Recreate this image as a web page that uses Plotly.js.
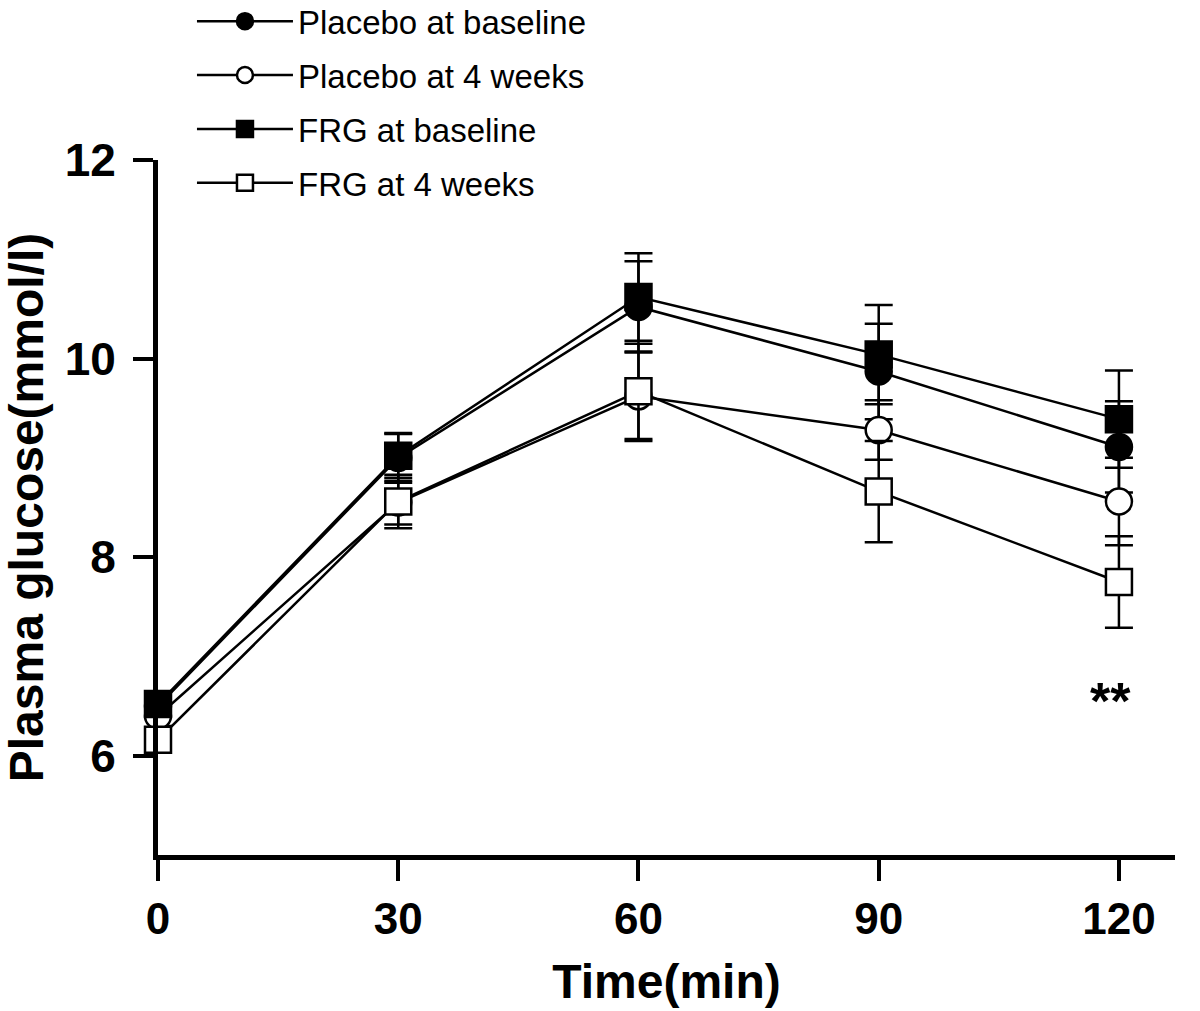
<!DOCTYPE html>
<html>
<head>
<meta charset="utf-8">
<script src="https://cdn.plot.ly/plotly-3.0.1.min.js"></script>
<style>
  html, body { margin: 0; padding: 0; background: #fff; }
  #plot { width: 1200px; height: 1011px; }
</style>
</head>
<body>
<div id="plot"></div>
<script>
// OGTT plasma glucose, mean with error bars
var time = [0, 30, 60, 90, 120];

var seriesNames = ['Placebo at baseline', 'Placebo at 4 weeks', 'FRG at baseline', 'FRG at 4 weeks'];

var placeboBase = [6.50, 9.00, 10.52, 9.87, 9.11];
var placeboBaseErr = [0.10, 0.25, 0.46, 0.48, 0.46];

var placebo4w = [6.40, 8.55, 9.62, 9.28, 8.56];
var placebo4wErr = [0.10, 0.22, 0.45, 0.30, 0.44];

var frgBase = [6.52, 9.02, 10.62, 10.04, 9.39];
var frgBaseErr = [0.10, 0.22, 0.44, 0.50, 0.49];

var frg4w = [6.16, 8.56, 9.67, 8.66, 7.75];
var frg4wErr = [0.10, 0.27, 0.48, 0.51, 0.46];

var yTicks = [6, 8, 10, 12];

var sigMark = '**';
var sigTime = 120;
var sigLevel = 6.55;

var fontFam = '"Liberation Sans", Arial, sans-serif';

function makeTrace(name, y, err, symbol, fill) {
    return {
        x: time,
        y: y,
        name: name,
        type: 'scatter',
        mode: 'lines+markers',
        cliponaxis: false,
        line: { color: 'black', width: 2.5 },
        marker: {
            symbol: symbol,
            size: 26,
            color: fill,
            line: { color: 'black', width: 2.5 }
        },
        error_y: {
            type: 'data',
            array: err,
            visible: true,
            color: 'black',
            thickness: 2.5,
            width: 14
        },
        legendgroup: name
    };
}

var data = [
    makeTrace(seriesNames[0], placeboBase, placeboBaseErr, 'circle', 'black'),
    makeTrace(seriesNames[1], placebo4w, placebo4wErr, 'circle', 'white'),
    makeTrace(seriesNames[2], frgBase, frgBaseErr, 'square', 'black'),
    makeTrace(seriesNames[3], frg4w, frg4wErr, 'square', 'white')
];

var layout = {
    width: 1200,
    height: 1011,
    margin: { l: 158, r: 25, t: 160, b: 156, autoexpand: false },
    paper_bgcolor: 'white',
    plot_bgcolor: 'white',
    font: { family: fontFam, color: 'black' },
    showlegend: true,
    legend: {
        x: 0.0334,
        y: 1.240,
        xanchor: 'left',
        yanchor: 'top',
        traceorder: 'grouped',
        tracegroupgap: 8,
        itemwidth: 96,
        font: { size: 33, family: fontFam, color: 'black' },
        bgcolor: 'rgba(0,0,0,0)'
    },
    xaxis: {
        range: [0, 127],
        tickvals: time,
        ticks: 'outside',
        ticklen: 21,
        tickwidth: 4,
        tickcolor: 'black',
        showline: true,
        linewidth: 5,
        linecolor: 'black',
        showgrid: false,
        zeroline: false,
        tickfont: { size: 44, weight: 'bold', family: fontFam },
        title: { text: 'Time(min)', font: { size: 48, weight: 'bold', family: fontFam }, standoff: 24 }
    },
    yaxis: {
        range: [5, 12],
        tickvals: yTicks,
        ticks: 'outside',
        ticklen: 20,
        tickwidth: 4,
        tickcolor: 'black',
        showline: true,
        linewidth: 5,
        linecolor: 'black',
        showgrid: false,
        zeroline: false,
        ticklabelstandoff: 8,
        tickfont: { size: 46, weight: 'bold', family: fontFam },
        title: { text: 'Plasma glucose(mmol/l)', font: { size: 48, weight: 'bold', family: fontFam }, standoff: 14 }
    },
    annotations: [{
        x: sigTime,
        y: sigLevel,
        xref: 'x',
        yref: 'y',
        xshift: -8,
        text: sigMark,
        showarrow: false,
        font: { size: 52, weight: 'bold', family: fontFam, color: 'black' }
    }]
};

Plotly.newPlot('plot', data, layout, { displayModeBar: false, staticPlot: true });
</script>
</body>
</html>
